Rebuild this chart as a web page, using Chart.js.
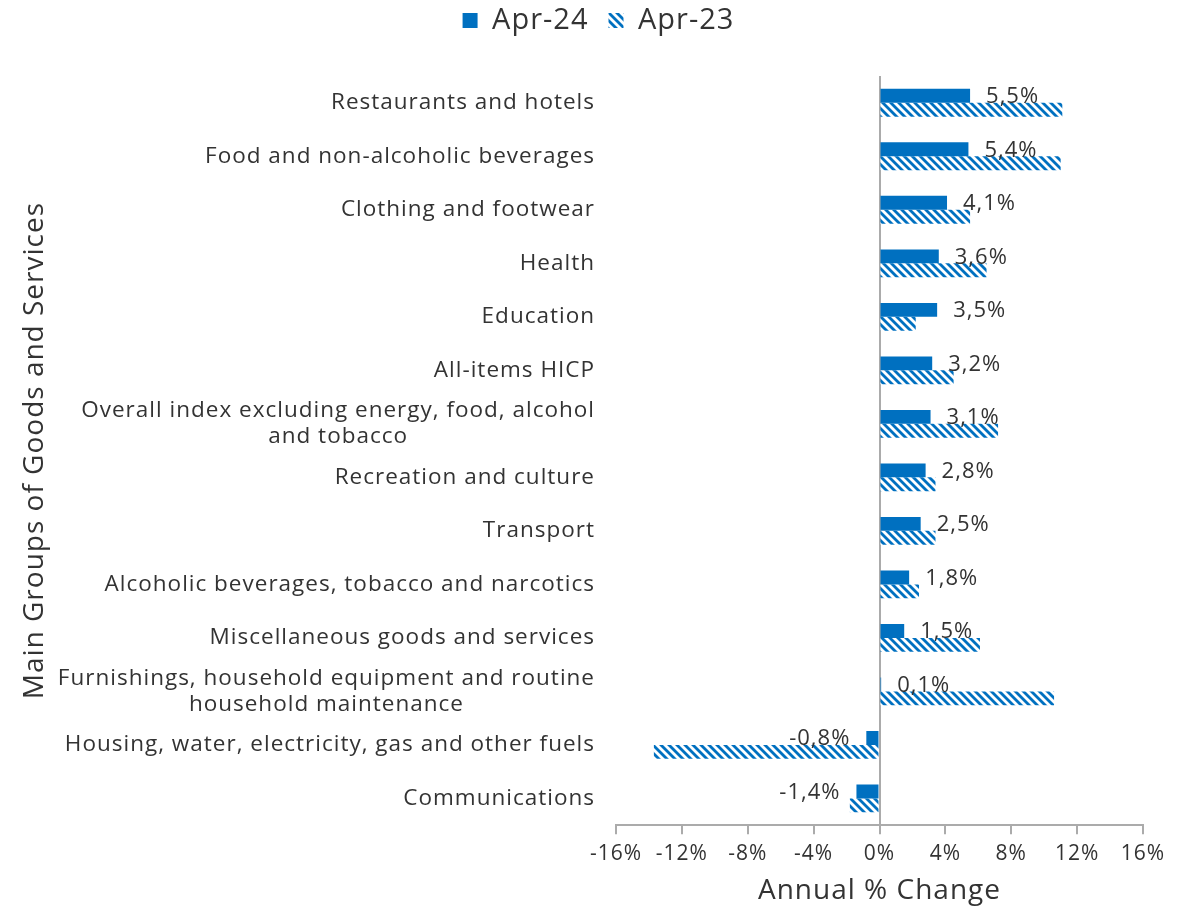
<!DOCTYPE html>
<html>
<head>
<meta charset="utf-8">
<script src="https://cdn.jsdelivr.net/npm/chart.js@4"></script>
<style>
  body { margin: 0; background: #fff; }
  #wrap { width: 1196px; height: 906px; }
</style>
</head>
<body>
<div id="wrap"><canvas id="canvas"></canvas></div>
<script>
const categories = [
  ['Restaurants and hotels'],
  ['Food and non-alcoholic beverages'],
  ['Clothing and footwear'],
  ['Health'],
  ['Education'],
  ['All-items HICP'],
  ['Overall index excluding energy, food, alcohol', 'and tobacco'],
  ['Recreation and culture'],
  ['Transport'],
  ['Alcoholic beverages, tobacco and narcotics'],
  ['Miscellaneous goods and services'],
  ['Furnishings, household equipment and routine', 'household maintenance'],
  ['Housing, water, electricity, gas and other fuels'],
  ['Communications']
];
const apr24 = [5.5, 5.4, 4.1, 3.6, 3.5, 3.2, 3.1, 2.8, 2.5, 1.8, 1.5, 0.1, -0.8, -1.4];
const apr23 = [11.1, 11.0, 5.5, 6.5, 2.2, 4.5, 7.2, 3.4, 3.4, 2.4, 6.1, 10.6, -13.7, -1.8];
const seriesNames = ['Apr-24', 'Apr-23'];
const xTicks = [-16, -12, -8, -4, 0, 4, 8, 12, 16];

const blue = '#0070C0';
const textCol = '#333333';
const fontFam = '"Open Sans", sans-serif';

// diagonal hatch for Apr-23
function hatch() {
  const c = document.createElement('canvas');
  c.width = 8; c.height = 8;
  const g = c.getContext('2d');
  g.fillStyle = blue;
  g.fillRect(0, 0, 8, 8);
  g.strokeStyle = '#fff';
  g.lineWidth = 2.8;
  for (let x0 = -8; x0 <= 8; x0 += 8) {
    g.beginPath();
    g.moveTo(x0 - 1, -1);
    g.lineTo(x0 + 9, 9);
    g.stroke();
  }
  return g.createPattern(c, 'repeat');
}

const labelsPlugin = {
  id: 'customLabels',
  beforeInit(chart) {
    const fit = chart.legend.fit;
    chart.legend.fit = function () {
      fit.bind(chart.legend)();
      this.height += 31;
    };
  },
  beforeUpdate(chart) {
    chart.ctx.letterSpacing = '1px';
  },
  afterLayout(chart) {
    // centre legend on the page rather than the padded box
    chart.legend.left += 23;
    chart.legend.right += 23;
  },
  beforeDraw(chart) {
    chart.ctx.letterSpacing = '1px';
  },
  afterDraw(chart) {
    const ctx = chart.ctx;
    const area = chart.chartArea;
    const yScale = chart.scales.y;
    ctx.save();
    ctx.fillStyle = textCol;
    ctx.font = '22.5px ' + fontFam;
    ctx.textBaseline = 'middle';
    // category labels, right aligned block, lines centred
    categories.forEach((lines, i) => {
      const yc = yScale.getPixelForTick(i);
      const right = area.left - 21;
      const w = Math.max(...lines.map(l => ctx.measureText(l).width));
      const lh = 26;
      lines.forEach((l, j) => {
        ctx.textAlign = 'center';
        ctx.fillText(l, right - w / 2, yc + (j - (lines.length - 1) / 2) * lh);
      });
    });
    // value labels for Apr-24
    ctx.font = '22px ' + fontFam;
    const meta = chart.getDatasetMeta(0);
    meta.data.forEach((bar, i) => {
      const v = apr24[i];
      const txt = v.toFixed(1).replace('.', ',') + '%';
      if (v >= 0) {
        ctx.textAlign = 'left';
        ctx.fillText(txt, bar.x + 16, bar.y + 1);
      } else {
        ctx.textAlign = 'right';
        ctx.fillText(txt, bar.x - 16, bar.y + 1);
      }
    });
    ctx.restore();
  }
};

const ctx = document.getElementById('canvas').getContext('2d');
const myChart = new Chart(ctx, {
  type: 'bar',
  data: {
    labels: categories.map(c => c.join(' ')),
    datasets: [{
      label: seriesNames[0],
      data: apr24,
      backgroundColor: blue,
      categoryPercentage: 0.52,
      barPercentage: 1
    }, {
      label: seriesNames[1],
      data: apr23,
      backgroundColor: hatch(),
      borderWidth: 0,
      categoryPercentage: 0.52,
      barPercentage: 1
    }]
  },
  options: {
    indexAxis: 'y',
    responsive: true,
    maintainAspectRatio: false,
    animation: false,
    layout: {
      padding: { left: 8, right: 53, top: -14, bottom: -2 }
    },
    scales: {
      x: {
        min: -16,
        max: 16,
        afterBuildTicks(scale) {
          scale.ticks = xTicks.map(v => ({ value: v }));
        },
        grid: {
          color: c => (c.tick && c.tick.value === 0) ? '#ababab' : 'transparent',
          tickColor: '#ababab',
          tickLength: 9,
          lineWidth: 2
        },
        border: { display: true, color: '#ababab', width: 2 },
        ticks: {
          color: textCol,
          font: { family: fontFam, size: 21 },
          padding: 7,
          maxRotation: 0,
          callback: v => v + '%'
        },
        title: {
          display: true,
          text: 'Annual % Change',
          color: textCol,
          font: { family: fontFam, size: 28 },
          padding: { top: 1, bottom: 0 }
        }
      },
      y: {
        grid: { display: false },
        border: { display: false },
        ticks: { display: false },
        afterFit(scale) {
          scale.width = 608;
        },
        title: {
          display: true,
          text: 'Main Groups of Goods and Services',
          color: textCol,
          font: { family: fontFam, size: 28 },
          padding: { top: 10, bottom: 0 }
        }
      }
    },
    plugins: {
      legend: {
        display: true,
        position: 'top',
        labels: {
          color: textCol,
          font: { family: fontFam, size: 29 },
          boxWidth: 15,
          boxHeight: 15,
          padding: 20
        }
      },
      tooltip: { enabled: false }
    }
  },
  plugins: [labelsPlugin]
});
</script>
</body>
</html>
